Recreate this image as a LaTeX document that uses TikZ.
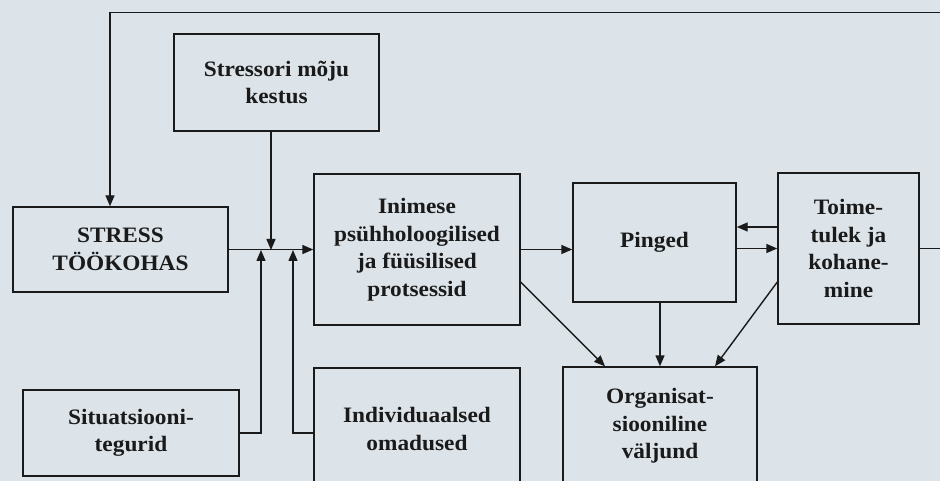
\documentclass[tikz,border=0pt]{standalone}
\usepackage{fontspec}
\setmainfont{Liberation Serif}[FakeStretch=1.06]
\usetikzlibrary{arrows.meta}
\definecolor{bgc}{HTML}{DCE4EA}
\definecolor{ink}{HTML}{1A1A1A}
\begin{document}
\begin{tikzpicture}[x=1pt,y=-1pt,
  box/.style={draw=ink,line width=1.4pt,rectangle,inner sep=0pt,align=center,
    text=ink,font=\fontsize{22}{27.5}\selectfont\bfseries},
  conn/.style={draw=ink,line width=1.4pt},
  arr/.style={conn,-{Triangle[length=11pt,width=9pt]}}]
\useasboundingbox (0,0) rectangle (940,481);
\fill[bgc] (0,0) rectangle (940,481);
\clip (0,0) rectangle (940,481);
% boxes
\node[box,minimum width=205pt,minimum height=97pt] (stressori) at (276.5,82.5) {Stressori mõju\\kestus};
\node[box,minimum width=215pt,minimum height=85pt] (stress) at (120.5,249.5) {STRESS\\TÖÖKOHAS};
\node[box,minimum width=216pt,minimum height=86pt] (sit) at (131,433) {Situatsiooni-\\tegurid};
\node[box,minimum width=206pt,minimum height=151pt] (inim) at (417,249.5) {Inimese\\psühholoogilised\\ja füüsilised\\protsessid};
\node[box,minimum width=206pt,minimum height=122pt] (indiv) at (417,429) {Individuaalsed\\omadused};
\node[box,minimum width=163pt,minimum height=119pt] (ping) at (654.5,242.5) {Pinged};
\node[box,minimum width=141pt,minimum height=151pt] (toim) at (848.5,248.5) {Toime-\\tulek ja\\kohane-\\mine};
\node[box,minimum width=194pt,minimum height=118pt] (org) at (660,426) {Organisat-\\siooniline\\väljund};
% junction coordinates
\coordinate (jd) at (271,250);
\coordinate (js) at (261,250);
\coordinate (ji) at (293,250);
\coordinate (tl) at (110,12.7);
\coordinate (tr) at (950,12.7);
\coordinate (rr) at (950,248.5);
% connectors
\draw[arr] (tr) -- (tl) -- (tl |- stress.north);
\draw[conn] (toim.east) -- (rr);
\draw[arr] (stressori.south -| jd) -- (jd);
\draw[arr] (stress.east) -- (stress.east -| inim.west);
\draw[arr] (sit.east) -- (sit.east -| js) -- (js);
\draw[arr] (indiv.west |- sit.east) -- (ji |- sit.east) -- (ji);
\draw[arr] (inim.east) -- (inim.east -| ping.west);
\draw[arr] (ping.east |- toim.west) -- (toim.west);
\draw[arr] ([yshift=21.5pt]toim.west) -- ([yshift=21.5pt]toim.west -| ping.east);
\draw[arr] ([yshift=-32.5pt]inim.east) -- ([xshift=-55pt]org.north);
\draw[arr] (ping.south -| org.north) -- (org.north);
\draw[arr] ([yshift=-33.5pt]toim.west) -- ([xshift=55pt]org.north);
\end{tikzpicture}
\end{document}
